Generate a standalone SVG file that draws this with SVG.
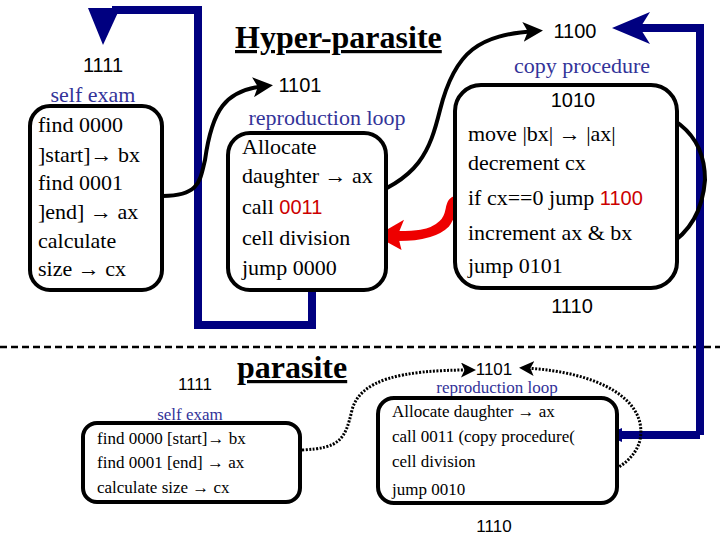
<svg xmlns="http://www.w3.org/2000/svg" width="720" height="540" viewBox="0 0 720 540">
<style>
.box{fill:#fff;stroke:#000;stroke-width:4}
.t{font-family:'Liberation Serif','Times New Roman',Times,serif;font-size:22px;fill:#000}
.ts{font-family:'Liberation Serif','Times New Roman',Times,serif;font-size:17px;fill:#000}
.a{font-family:'Liberation Sans',Arial,sans-serif;font-size:20px;fill:#000}
.as{font-family:'Liberation Sans',Arial,sans-serif;font-size:17px;fill:#000}
.b{fill:#333399}
.r{fill:#cc0000;font-family:'Liberation Sans',Arial,sans-serif;font-size:20px}
.title{font-family:'Liberation Serif','Times New Roman',Times,serif;font-size:32px;font-weight:bold;text-decoration:underline}
.blue{fill:none;stroke:#000080;stroke-width:8}
.blk{fill:none;stroke:#000;stroke-width:4}
.dot{fill:none;stroke:#000;stroke-width:3;stroke-dasharray:2 1.5}
</style>
<defs>
<marker id="ah" markerWidth="5" markerHeight="5" refX="3" refY="2.5" orient="auto"><path d="M0,0L5,2.5L0,5L1.2,2.5Z" fill="#000"/></marker>
</defs>
<line x1="0" y1="347" x2="720" y2="347" stroke="#000" stroke-width="2.5" stroke-dasharray="7 4"/>
<g id="connectors">
<path class="blue" d="M312,290V325H198V10H112"/>
<path d="M88,8L120,8L103,45Z" fill="#000080"/>
<path d="M312,272L318,287L312,302L306,287Z" fill="#000080"/>
<path class="blue" d="M700,435V28H640"/>
<path d="M612,28L650,12L640,28L650,44Z" fill="#000080"/>
<path class="blue" d="M700,435H620"/>
<path d="M606,435L622,428L622,442Z" fill="#000080"/>
<path class="blk" marker-end="url(#ah)" d="M163,196C200,196 200,180 205,160C212,110 225,90 265,86"/>
<path class="blk" marker-end="url(#ah)" d="M358,200C420,180 430,150 440,110C455,50 480,35 535,31"/>
<path class="blk" marker-end="url(#ah)" d="M583,265C650,262 700,245 705,180C705,130 670,110 612,98"/>
<path d="M462,195C440,198 452,212 440,222C430,232 412,232 398,232L402,222L378,236L400,248L398,240C418,240 438,236 448,226C458,214 452,204 464,201Z" fill="#ee0000" stroke="#ee0000" stroke-width="2"/>
<path class="dot" marker-end="url(#ah)" d="M302,450C340,448 345,440 352,410C360,380 400,370 470,370"/>
<path class="dot" marker-end="url(#ah)" d="M497,490C560,490 630,480 640,440C648,400 600,372 525,368"/>
</g>
<g id="title"><text class="title" x="235" y="48">Hyper-parasite</text></g>
<g id="selfexam">
<text class="a" x="103" y="72" text-anchor="middle">1111</text>
<text class="t b" x="93" y="102" text-anchor="middle">self exam</text>
<rect class="box" x="30" y="106" width="132" height="184" rx="20"/>
<text class="t" x="38" y="132">find 0000</text>
<text class="t" x="38" y="162">]start]→ bx</text>
<text class="t" x="38" y="190">find 0001</text>
<text class="t" x="38" y="219">]end] → ax</text>
<text class="t" x="38" y="248">calculate</text>
<text class="t" x="38" y="276">size → cx</text>
</g>
<g id="reproduction">
<text class="a" x="300" y="92" text-anchor="middle">1101</text>
<text class="t b" x="327" y="125" text-anchor="middle">reproduction loop</text>
<rect class="box" x="228" y="133" width="158" height="157" rx="22"/>
<text class="t" x="242" y="154">Allocate</text>
<text class="t" x="242" y="183">daughter → ax</text>
<text class="t" x="242" y="214">call <tspan class="r">0011</tspan></text>
<text class="t" x="242" y="245">cell division</text>
<text class="t" x="242" y="275">jump 0000</text>
</g>
<g id="copy">
<text class="a" x="575" y="38" text-anchor="middle">1100</text>
<text class="t b" x="582" y="73" text-anchor="middle">copy procedure</text>
<rect class="box" x="455" y="85" width="222" height="203" rx="26"/>
<text class="a" x="573" y="107" text-anchor="middle">1010</text>
<text class="t" x="468" y="141">move |bx| → |ax|</text>
<text class="t" x="468" y="170">decrement cx</text>
<text class="t" x="468" y="205">if cx==0 jump <tspan class="r">1100</tspan></text>
<text class="t" x="468" y="240">increment ax &amp; bx</text>
<text class="t" x="468" y="273">jump 0101</text>
<text class="a" x="572" y="313" text-anchor="middle">1110</text>
</g>
<g id="ptitle"><text class="title" x="237" y="378">parasite</text></g>
<g id="pself">
<text class="as" x="195" y="390" text-anchor="middle">1111</text>
<text class="ts b" x="190" y="420" text-anchor="middle">self exam</text>
<rect class="box" x="83" y="423" width="217" height="79" rx="14"/>
<text class="ts" x="97" y="444">find 0000 [start]→ bx</text>
<text class="ts" x="97" y="468">find 0001 [end] → ax</text>
<text class="ts" x="97" y="493">calculate size → cx</text>
</g>
<g id="prepro">
<text class="as" x="494" y="375" text-anchor="middle">1101</text>
<text class="ts b" x="497" y="393" text-anchor="middle">reproduction loop</text>
<rect class="box" x="378" y="398" width="239" height="105" rx="16"/>
<text class="ts" x="392" y="417">Allocate daughter → ax</text>
<text class="ts" x="392" y="442">call 0011 (copy procedure(</text>
<text class="ts" x="392" y="467">cell division</text>
<text class="ts" x="392" y="495">jump 0010</text>
<text class="as" x="494" y="532" text-anchor="middle">1110</text>
</g>
</svg>
